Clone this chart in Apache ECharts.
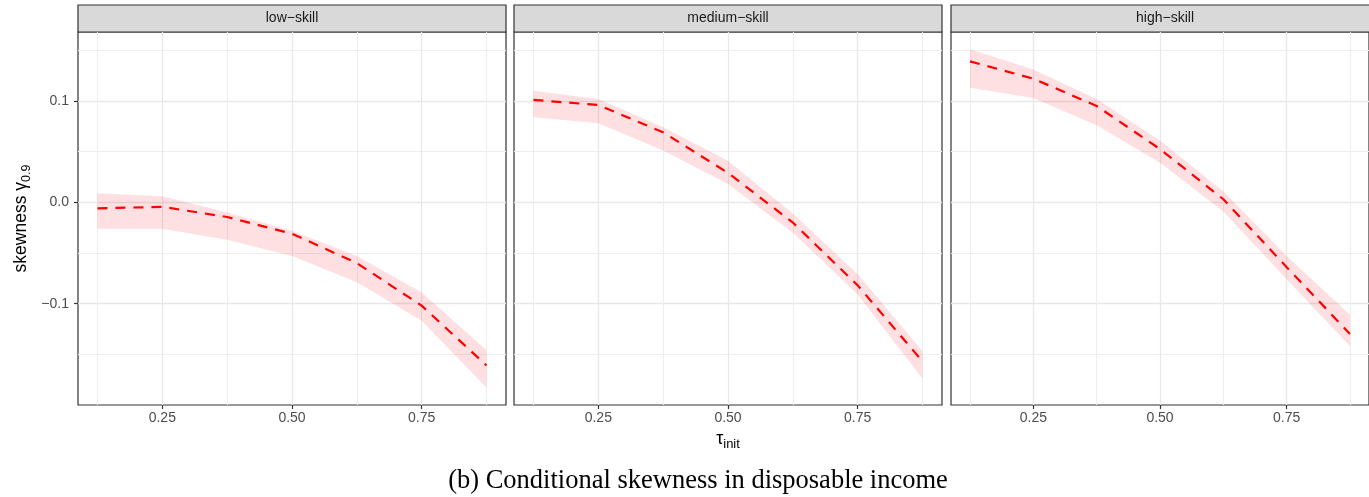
<!DOCTYPE html>
<html>
<head>
<meta charset="utf-8">
<script src="https://cdn.jsdelivr.net/npm/echarts@6/dist/echarts.min.js"></script>
<style>
  html, body { margin: 0; padding: 0; background: #fff; }
  #chart { width: 1369px; height: 497px; }
</style>
</head>
<body>
<div id="chart"></div>
<script>
// tau_init grid points
const tau = [0.125, 0.25, 0.375, 0.5, 0.625, 0.75, 0.875];
const panelNames = ["low−skill", "medium−skill", "high−skill"];

// skewness gamma_0.9, mean and band per skill group
const lowMean = [-0.006, -0.0045, -0.0145, -0.031, -0.060, -0.102, -0.161];
const lowLower = [-0.026, -0.026, -0.037, -0.053, -0.079, -0.117, -0.183];
const lowUpper = [0.009, 0.006, -0.010, -0.028, -0.053, -0.089, -0.146];

const medMean = [0.101, 0.096, 0.069, 0.029, -0.020, -0.082, -0.157];
const medLower = [0.084, 0.078, 0.051, 0.018, -0.030, -0.091, -0.174];
const medUpper = [0.110, 0.102, 0.074, 0.041, -0.011, -0.071, -0.147];

const highMean = [0.139, 0.122, 0.095, 0.0525, 0.003, -0.064, -0.130];
const highLower = [0.113, 0.103, 0.076, 0.039, -0.009, -0.076, -0.142];
const highUpper = [0.151, 0.131, 0.102, 0.061, 0.011, -0.053, -0.111];

// axis ticks
const xMajor = [0.25, 0.5, 0.75];
const xMinor = [0.125, 0.375, 0.625, 0.875];
const yMajor = [-0.1, 0, 0.1];
const yMinor = [-0.15, -0.05, 0.05, 0.15];
const xRange = [0.0875, 0.9125];
const yRange = [-0.2, 0.168];

const groups = [
  { mean: lowMean, lower: lowLower, upper: lowUpper },
  { mean: medMean, lower: medLower, upper: medUpper },
  { mean: highMean, lower: highLower, upper: highUpper },
];

const font = "Liberation Sans";
const panelLeft = [78, 514, 951];
const panelWidth = 428;
const panelTop = 32;
const panelHeight = 373;

const minus = (s) => s.replace("-", "\u2212");

const grid = [];
const xAxis = [];
const yAxis = [];
const series = [];
const graphic = [];

panelLeft.forEach((left, i) => {
  grid.push({
    left: left, top: panelTop, width: panelWidth, height: panelHeight,
    show: true, backgroundColor: "#fff", borderColor: "#333", borderWidth: 1.2,
  });

  // major x
  xAxis.push({
    type: "value", gridIndex: i, min: xRange[0], max: xRange[1], position: "bottom",
    axisLine: { show: false, onZero: false },
    axisTick: { show: true, customValues: xMajor, length: 4, lineStyle: { color: "#333", width: 1.2 } },
    axisLabel: {
      customValues: xMajor, margin: 6, color: "#4d4d4d", fontSize: 14, fontFamily: font,
      formatter: (v) => v.toFixed(2),
    },
    splitLine: { show: true, lineStyle: { color: "#e8e8e8", width: 1.3 } },
    name: i === 1 ? "{t|τ}{s|init}" : "",
    nameLocation: "middle", nameGap: 21,
    nameTextStyle: {
      rich: {
        t: { fontSize: 18, fontFamily: font, color: "#000", lineHeight: 22, verticalAlign: "bottom" },
        s: { fontSize: 13, fontFamily: font, color: "#000", lineHeight: 15, verticalAlign: "bottom", padding: [0, 0, -3, 0] },
      },
    },
  });
  // minor x
  xAxis.push({
    type: "value", gridIndex: i, min: xRange[0], max: xRange[1], position: "bottom",
    axisLine: { show: false, onZero: false },
    axisTick: { show: false, customValues: xMinor },
    axisLabel: { show: false },
    splitLine: { show: true, lineStyle: { color: "#eeeeee", width: 1 } },
  });

  // major y
  yAxis.push({
    type: "value", gridIndex: i, min: yRange[0], max: yRange[1], position: "left",
    axisLine: { show: false, onZero: false },
    axisTick: { show: i === 0, customValues: yMajor, length: 4, lineStyle: { color: "#333", width: 1.2 } },
    axisLabel: {
      show: i === 0, customValues: yMajor, margin: 9, color: "#4d4d4d", fontSize: 14, fontFamily: font,
      formatter: (v) => minus(v.toFixed(1)),
    },
    splitLine: { show: true, lineStyle: { color: "#e8e8e8", width: 1.3 } },
    name: i === 0 ? "{t|skewness γ}{s|0.9}" : "",
    nameLocation: "middle", nameGap: 48, nameRotate: 90,
    nameTextStyle: {
      rich: {
        t: { fontSize: 17.5, fontFamily: font, color: "#000", lineHeight: 22, verticalAlign: "bottom" },
        s: { fontSize: 12.5, fontFamily: font, color: "#000", lineHeight: 15, verticalAlign: "bottom", padding: [0, 0, -3, 0] },
      },
    },
  });
  // minor y
  yAxis.push({
    type: "value", gridIndex: i, min: yRange[0], max: yRange[1], position: "left",
    axisLine: { show: false, onZero: false },
    axisTick: { show: false, customValues: yMinor },
    axisLabel: { show: false },
    splitLine: { show: true, lineStyle: { color: "#eeeeee", width: 1 } },
  });

  const g = groups[i];
  // ribbon: one polygon through upper then lower, placed with the axis scales
  series.push({
    type: "custom", xAxisIndex: 2 * i, yAxisIndex: 2 * i, silent: true,
    encode: { x: 0, y: [1, 2] },
    data: tau.map((t, k) => [t, g.lower[k], g.upper[k]]),
    renderItem: (params, api) => {
      if (params.dataIndex !== 0) return null;
      const top = tau.map((t, k) => api.coord([t, g.upper[k]]));
      const bottom = tau.map((t, k) => api.coord([t, g.lower[k]])).reverse();
      return {
        type: "polygon",
        shape: { points: top.concat(bottom) },
        style: { fill: "rgba(245,0,20,0.12)" },
      };
    },
  });
  series.push({
    type: "line", xAxisIndex: 2 * i, yAxisIndex: 2 * i,
    symbol: "none", z: 5,
    lineStyle: { color: "#ff0000", width: 2.2, type: [10, 8] },
    data: tau.map((t, k) => [t, g.mean[k]]),
  });

  // facet strip
  graphic.push({
    type: "rect",
    shape: { x: left, y: 5, width: panelWidth, height: 27 },
    style: { fill: "#d9d9d9", stroke: "#333", lineWidth: 1.2 },
  });
  graphic.push({
    type: "text",
    x: left + panelWidth / 2, y: 18.5,
    style: {
      text: panelNames[i], fill: "#1a1a1a", font: "14px " + font,
      textAlign: "center", textVerticalAlign: "middle",
    },
  });
});

graphic.push({
  type: "text",
  x: 698, y: 481,
  style: {
    text: "(b) Conditional skewness in disposable income",
    fill: "#000", font: "26.5px 'Liberation Serif'",
    textAlign: "center", textVerticalAlign: "middle",
  },
});

const chart = echarts.init(document.getElementById("chart"));
chart.setOption({
  animation: false,
  backgroundColor: "#fff",
  grid: grid,
  xAxis: xAxis,
  yAxis: yAxis,
  series: series,
  graphic: graphic,
});
</script>
</body>
</html>
